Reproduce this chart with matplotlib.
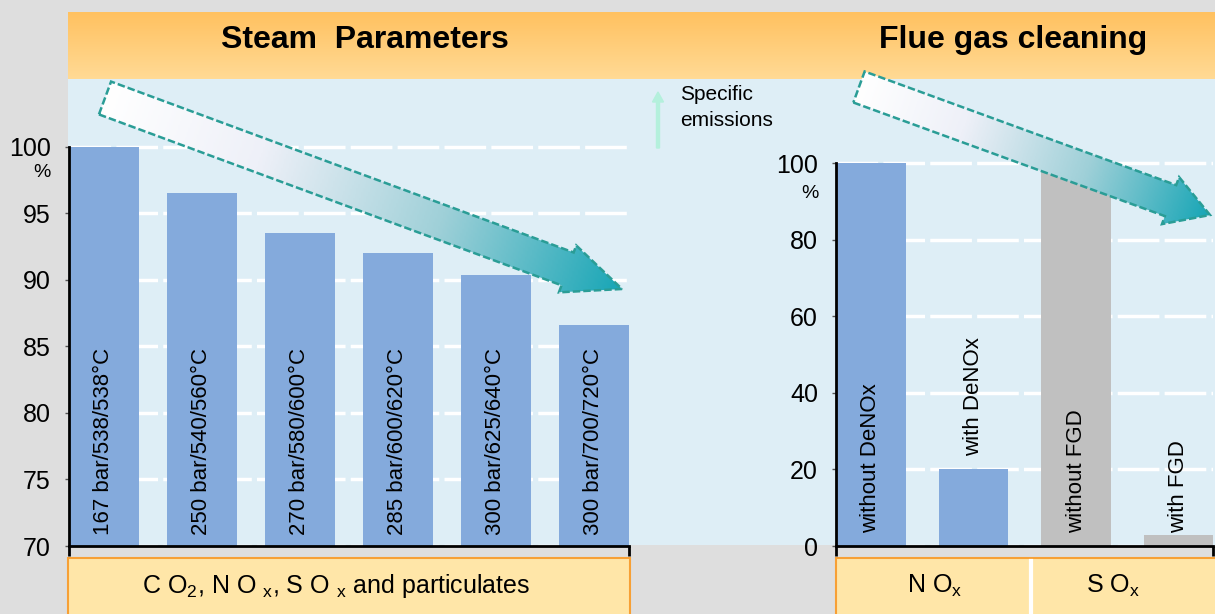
import numpy as np
import matplotlib.pyplot as plt
from matplotlib.patches import Polygon, Rectangle, FancyArrow
from matplotlib.colors import LinearSegmentedColormap
import matplotlib.transforms as mtransforms

# data
steam_labels = ['167 bar/538/538°C', '250 bar/540/560°C', '270 bar/580/600°C',
                '285 bar/600/620°C', '300 bar/625/640°C', '300 bar/700/720°C']
steam_values = [100, 96.5, 93.5, 92.0, 90.4, 86.6]
steam_ticks = [70, 75, 80, 85, 90, 95, 100]

flue_labels = ['without DeNOx', 'with DeNOx', 'without FGD', 'with FGD']
flue_values = [100, 20, 100, 3]
flue_colors = ['#84aadc', '#84aadc', '#c0c0c0', '#c0c0c0']
flue_ticks = [0, 20, 40, 60, 80, 100]

FONT = ['Liberation Sans Narrow', 'Liberation Sans', 'DejaVu Sans']
plt.rcParams['font.family'] = FONT
plt.rcParams['mathtext.fontset'] = 'custom'
plt.rcParams['mathtext.rm'] = 'Liberation Sans'

W, H = 1215, 614
fig = plt.figure(figsize=(W / 100, H / 100), dpi=100)
fig.patch.set_facecolor('#dedede')

# background layer in pixel coords
bg = fig.add_axes([0, 0, 1, 1], zorder=0)
bg.set_xlim(0, W)
bg.set_ylim(H, 0)
bg.axis('off')

# header band with vertical gradient
grad = np.linspace(0, 1, 64).reshape(-1, 1)
hdr_cmap = LinearSegmentedColormap.from_list('hdr', ['#ffc160', '#ffda95'])
bg.imshow(grad, cmap=hdr_cmap, aspect='auto', extent=(68, W, 79, 12), origin='upper')
bg.add_patch(Rectangle((68, 79), W - 68, 466, facecolor='#deeef6', edgecolor='none'))

# category boxes
box_kw = dict(facecolor='#ffe6a8', edgecolor='#f7a035', linewidth=1.5)
bg.add_patch(Rectangle((68, 558), 562, 60, **box_kw))
bg.add_patch(Rectangle((836, 558), 382, 60, **box_kw))
bg.plot([1031, 1031], [561, 614], color='white', lw=3)
cat_font = ['Liberation Sans', 'DejaVu Sans']
bg.text(336, 586, r'C O$_\mathrm{2}$, N O $_\mathrm{x}$, S O $_\mathrm{x}$ and particulates',
        ha='center', va='center', fontsize=18, family=cat_font)
bg.text(935, 586, r'N O$_\mathrm{x}$', ha='center', va='center', fontsize=18, family=cat_font)
bg.text(1113, 586, r'S O$_\mathrm{x}$', ha='center', va='center', fontsize=18, family=cat_font)

bg.text(365, 40, 'Steam  Parameters', ha='center', va='center', fontsize=23, fontweight='bold')
bg.text(1013, 40, 'Flue gas cleaning', ha='center', va='center', fontsize=23, fontweight='bold')


def style_axes(ax, ticks):
    ax.set_facecolor('none')
    for s in ['top', 'right']:
        ax.spines[s].set_visible(False)
    ax.spines['left'].set_linewidth(2)
    ax.spines['bottom'].set_linewidth(2)
    ax.spines['left'].set_bounds(ticks[0], ticks[-1])
    ax.set_yticks(ticks)
    ax.tick_params(axis='y', length=3, width=1, pad=10, labelsize=18, color='#555555')
    ax.set_xticks(ax.get_xlim())
    ax.set_xticklabels(['', ''])
    ax.tick_params(axis='x', length=7, width=2)
    ax.grid(axis='y', color='white', linestyle=(0, (12, 1.5)), linewidth=2.5, zorder=0)
    ax.set_axisbelow(True)


def px_box(x0, x1, y0, y1):
    return [x0 / W, 1 - y1 / H, (x1 - x0) / W, (y1 - y0) / H]


# left chart: steam parameters
ax1 = fig.add_axes(px_box(69, 629, 79, 546), zorder=5)
x1 = np.arange(len(steam_values))
ax1.set_xlim(-0.355, len(steam_values) - 0.64)
ax1.set_ylim(70, 105.1)
ax1.bar(x1, steam_values, width=0.715, color='#84aadc', zorder=2)
style_axes(ax1, steam_ticks)
for xi, lab in zip(x1, steam_labels):
    ax1.text(xi, 70.8, lab, rotation=90, ha='center', va='bottom', fontsize=16, zorder=3)
tr1 = mtransforms.blended_transform_factory(ax1.transAxes, ax1.transData)
ax1.text(-0.048, 98.1, '%', transform=tr1, ha='center', va='center', fontsize=14)

# right chart: flue gas cleaning
ax2 = fig.add_axes(px_box(836, 1213, 79, 546), zorder=5)
x2 = np.arange(len(flue_values))
ax2.set_xlim(-0.34, len(flue_values) - 0.665)
ax2.set_ylim(0, 122)
ax2.bar(x2, flue_values, width=0.68, color=flue_colors, zorder=2)
style_axes(ax2, flue_ticks)
for xi, v, lab in zip(x2, flue_values, flue_labels):
    y = v + 3.5 if 10 < v < 50 else 3.5
    ax2.text(xi, y, lab, rotation=90, ha='center', va='bottom', fontsize=16, zorder=3)
tr2 = mtransforms.blended_transform_factory(ax2.transAxes, ax2.transData)
ax2.text(-0.07, 92, '%', transform=tr2, ha='center', va='center', fontsize=14)

# top overlay: trend arrows and note
top = fig.add_axes([0, 0, 1, 1], zorder=10)
top.set_xlim(0, W)
top.set_ylim(H, 0)
top.axis('off')
top.patch.set_alpha(0)

arrow_cmap = LinearSegmentedColormap.from_list(
    'arr', [(0, '#ffffff'), (0.3, '#eef0f8'), (0.65, '#9fd0d8'), (1, '#18a6b6')])


def block_arrow(tail, tip, shaft_w, head_w, head_l):
    p0 = np.array(tail, float)
    p1 = np.array(tip, float)
    d = p1 - p0
    L = np.hypot(*d)
    u = d / L
    n = np.array([-u[1], u[0]])
    b = p1 - u * head_l
    pts = np.array([p0 + n * shaft_w / 2, b + n * shaft_w / 2, b + n * head_w / 2, p1,
                    b - n * head_w / 2, b - n * shaft_w / 2, p0 - n * shaft_w / 2])
    xmin, ymin = pts.min(axis=0)
    xmax, ymax = pts.max(axis=0)
    X, Y = np.meshgrid(np.linspace(xmin, xmax, 300), np.linspace(ymin, ymax, 150))
    t = ((X - p0[0]) * u[0] + (Y - p0[1]) * u[1]) / L
    im = top.imshow(t, cmap=arrow_cmap, vmin=0, vmax=1, aspect='auto',
                    extent=(xmin, xmax, ymax, ymin), origin='upper', zorder=1)
    poly = Polygon(pts, closed=True, facecolor='none', edgecolor='#2a9d96',
                   linewidth=1.8, linestyle=(0, (3, 1.2)), zorder=2)
    top.add_patch(poly)
    im.set_clip_path(poly)


block_arrow((105, 98), (622, 289), 35, 50, 58)
block_arrow((859, 87), (1210, 215), 33, 50, 42)

top.add_patch(FancyArrow(658, 148, 0, -56, width=3, head_width=11, head_length=10,
                         color='#b4f0dc', length_includes_head=True))
top.text(680, 95, 'Specific', ha='left', va='center', fontsize=15)
top.text(680, 121, 'emissions', ha='left', va='center', fontsize=15)

fig.savefig('out.png', dpi=100, facecolor=fig.get_facecolor())
